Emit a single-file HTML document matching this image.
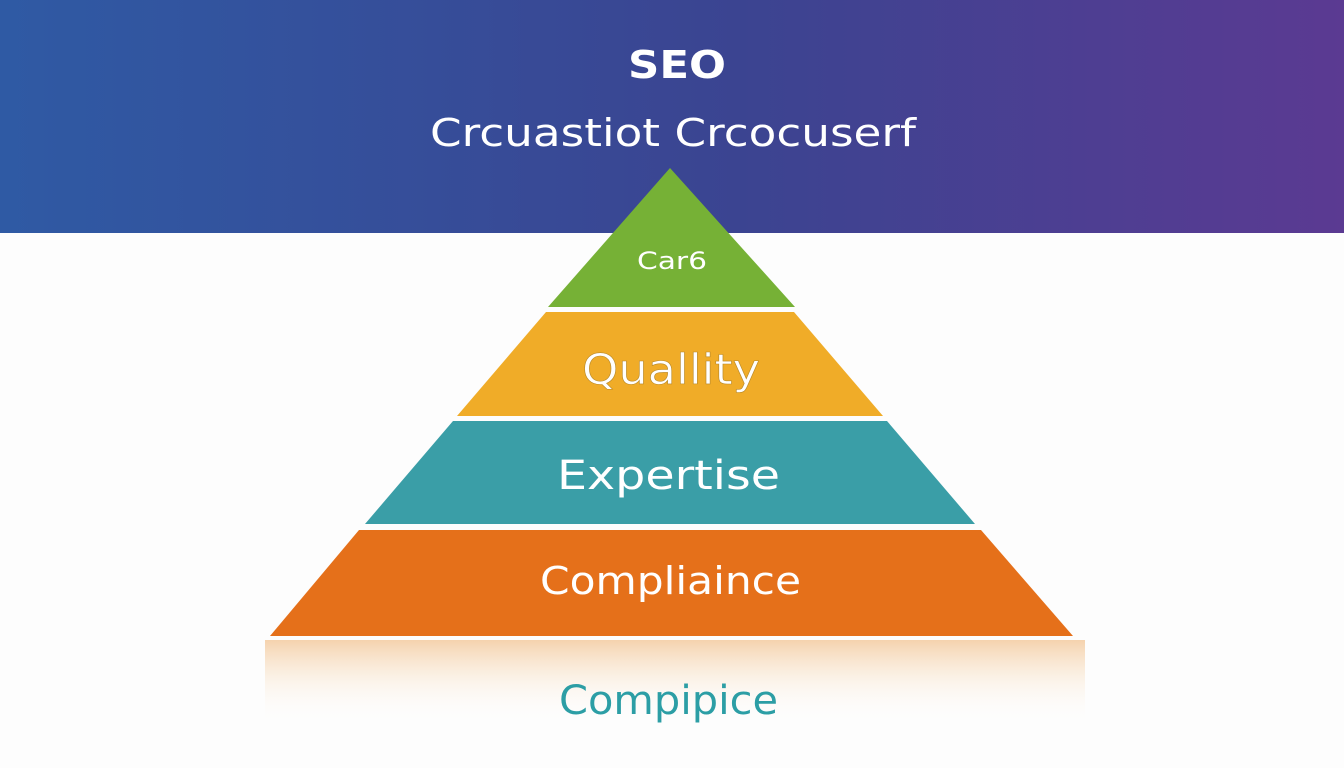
<!DOCTYPE html>
<html><head><meta charset="utf-8"><style>
html,body{margin:0;padding:0;width:1344px;height:768px;overflow:hidden;background:#fdfdfd;font-family:"DejaVu Sans","Liberation Sans",sans-serif}
</style></head><body>
<svg width="1344" height="768" viewBox="0 0 1344 768" xmlns="http://www.w3.org/2000/svg">
<defs>
<linearGradient id="hd" x1="0" y1="0" x2="1" y2="0">
<stop offset="0" stop-color="#2f5aa4"/><stop offset="0.55" stop-color="#3b4491"/><stop offset="1" stop-color="#5b3a92"/>
</linearGradient>
<linearGradient id="rf" x1="0" y1="0" x2="0" y2="1">
<stop offset="0" stop-color="#f3c89a" stop-opacity="0.8"/><stop offset="0.5" stop-color="#faebd9" stop-opacity="0.5"/><stop offset="1" stop-color="#ffffff" stop-opacity="0"/>
</linearGradient>
</defs>
<rect x="0" y="0" width="1344" height="233" fill="url(#hd)"/>
<text x="628" y="78" font-size="38" font-weight="bold" fill="#fff" textLength="98" lengthAdjust="spacingAndGlyphs">SEO</text>
<text x="430" y="146" font-size="38" fill="#fff" textLength="486" lengthAdjust="spacingAndGlyphs">Crcuastiot Crcocuserf</text>
<rect x="265" y="640" width="820" height="85" fill="url(#rf)"/>
<polygon points="670,168 795,307 548,307" fill="#76b136"/>
<polygon points="546,312 794,312 883,416 457,416" fill="#f0ac28"/>
<polygon points="453,421 887,421 975,524 365,524" fill="#3a9ea7"/>
<polygon points="359,530 981,530 1073,636 270,636" fill="#e5701a"/>
<text x="637" y="269" font-size="24" fill="#fff" textLength="70" lengthAdjust="spacingAndGlyphs">Car6</text>
<text x="582" y="384" font-size="42" fill="#fff" stroke="#b98a2a" stroke-width="0.6" textLength="178" lengthAdjust="spacingAndGlyphs">Quallity</text>
<text x="557" y="489" font-size="40" fill="#fff" textLength="223" lengthAdjust="spacingAndGlyphs">Expertise</text>
<text x="540" y="594" font-size="38" fill="#fff" textLength="261" lengthAdjust="spacingAndGlyphs">Compliaince</text>
<text x="559" y="714" font-size="40" fill="#2c9ea5" textLength="219" lengthAdjust="spacingAndGlyphs">Compipice</text>
</svg>
</body></html>
